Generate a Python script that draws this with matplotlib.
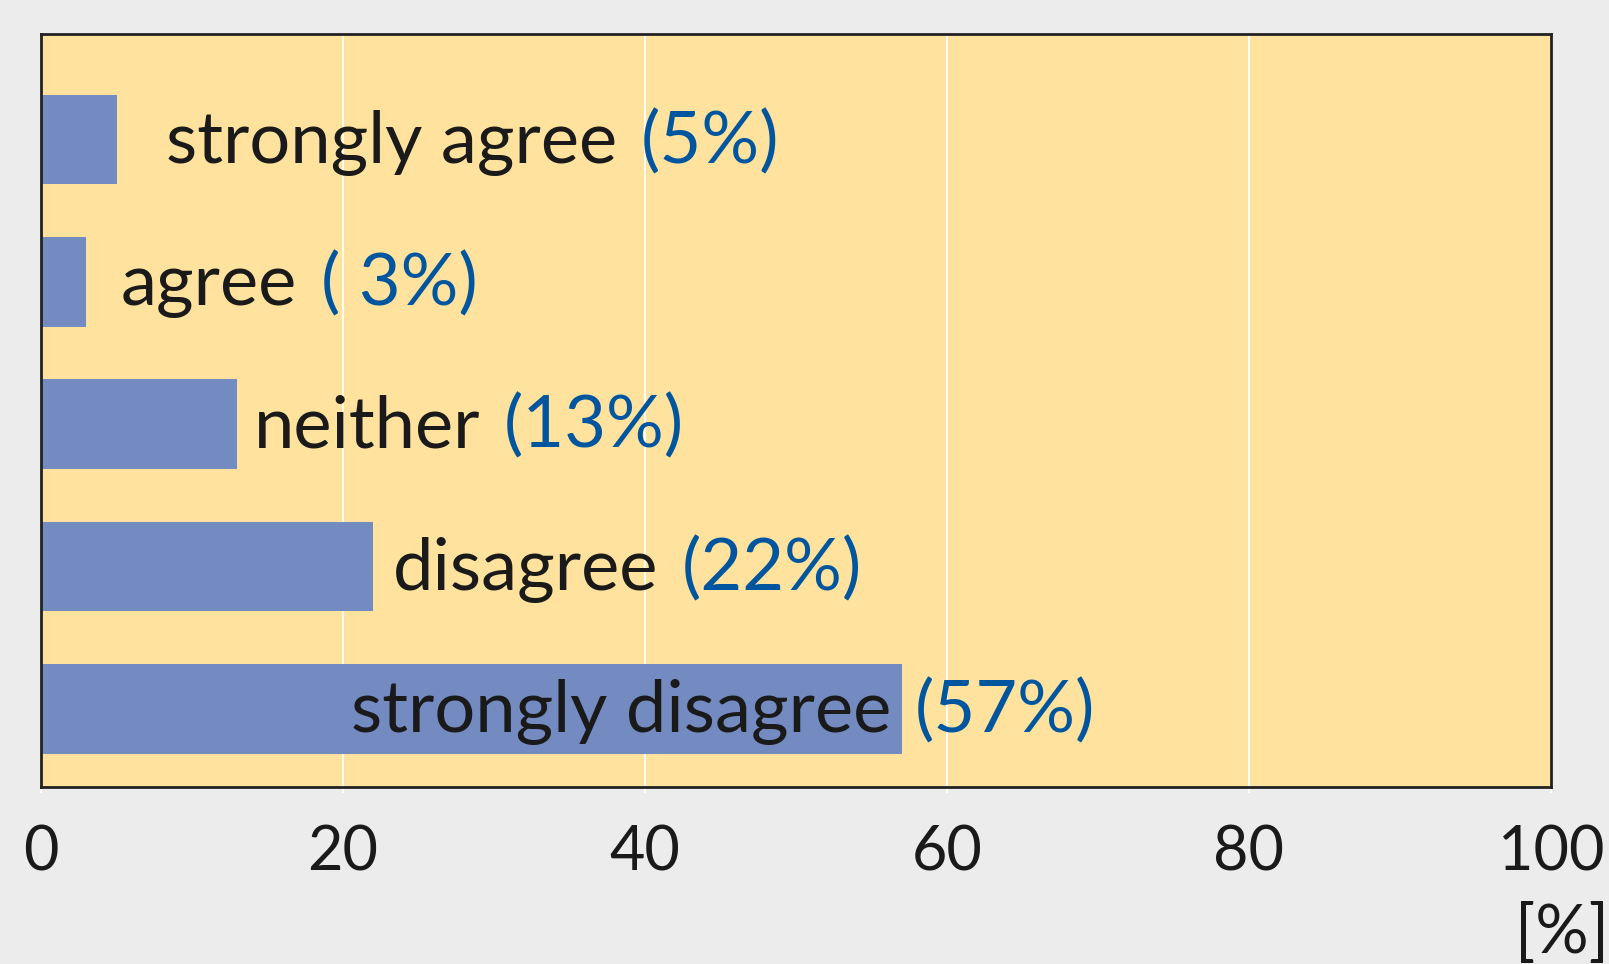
import matplotlib
matplotlib.use("Agg")
import matplotlib.pyplot as plt

# javoblar va foizlar
javoblar = ["strongly agree", "agree", "neither", "disagree", "strongly disagree"]
foizlar = [5, 3, 13, 22, 57]
foiz_matni = ["(5%)", "( 3%)", "(13%)", "(22%)", "(57%)"]
# yozuv boshlanadigan joy (x, foizda); oxirgisi o'ngga tekislanadi
yozuv_x = [8.3, 5.3, 14.1, 23.3, 56.3]
belgilar = [0, 20, 40, 60, 80, 100]

plt.rcParams["font.family"] = ["Lato", "DejaVu Sans"]

fig = plt.figure(figsize=(16.09, 9.64), dpi=100)
fig.patch.set_facecolor("#ececec")
ax = fig.add_axes([41 / 1609, 1 - 787 / 964, 1510 / 1609, 753 / 964])
ax.set_facecolor("#ffe29d")

y = list(range(len(javoblar)))
ax.barh(y, foizlar, height=0.63, color="#748bc2", zorder=2)

ax.set_xlim(0, 100)
ax.set_ylim(4.548, -0.742)
ax.set_xticks(belgilar)
ax.set_xticklabels([str(b) for b in belgilar])
ax.set_yticks([])
ax.grid(axis="x", color="white", linewidth=1.3, zorder=1)
ax.tick_params(axis="x", colors="white", length=4, width=1.3, pad=23,
               labelsize=44, labelcolor="#1a1a1a")

for s in ax.spines.values():
    s.set_color("#222222")
    s.set_linewidth(2)
    s.set_zorder(3)

for i in y:
    ha = "right" if i == len(javoblar) - 1 else "left"
    qora = ax.text(yozuv_x[i], i + 0.165, javoblar[i], ha=ha, va="baseline",
                   fontsize=52, color="#1a1a1a", zorder=4)
    ax.annotate(foiz_matni[i], xy=(1, i + 0.165), xycoords=(qora, "data"),
                xytext=(17, 0), textcoords="offset points",
                ha="left", va="baseline", fontsize=52, color="#00559f",
                zorder=4)

fig.text(1.0, 1 - 903 / 964, "[%]", ha="right", va="top", fontsize=48,
         color="#1a1a1a")

plt.savefig("out.png", dpi=100, facecolor=fig.get_facecolor())
